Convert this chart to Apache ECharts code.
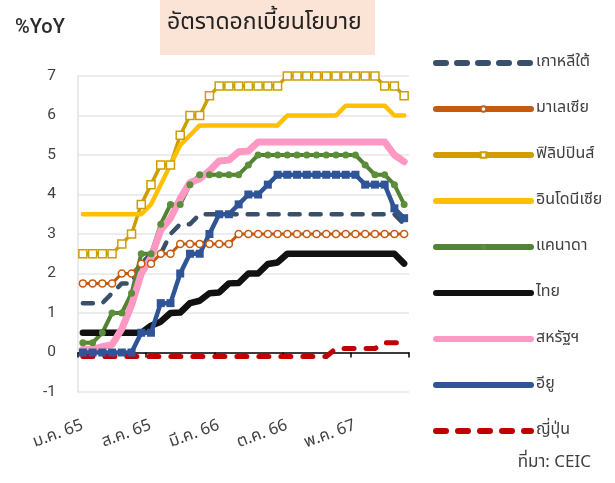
<!DOCTYPE html>
<html>
<head>
<meta charset="utf-8">
<script src="https://cdn.jsdelivr.net/npm/echarts/dist/echarts.min.js"></script>
<style>
  html, body { margin: 0; padding: 0; background: #fff; }
  #chart { width: 615px; height: 483px; }
</style>
</head>
<body>
<div id="chart"></div>
<script>
// เดือน ม.ค. 65 - ต.ค. 67
const months = [
  'ม.ค. 65', 'ก.พ. 65', 'มี.ค. 65', 'เม.ย. 65', 'พ.ค. 65', 'มิ.ย. 65',
  'ก.ค. 65', 'ส.ค. 65', 'ก.ย. 65', 'ต.ค. 65', 'พ.ย. 65', 'ธ.ค. 65',
  'ม.ค. 66', 'ก.พ. 66', 'มี.ค. 66', 'เม.ย. 66', 'พ.ค. 66', 'มิ.ย. 66',
  'ก.ค. 66', 'ส.ค. 66', 'ก.ย. 66', 'ต.ค. 66', 'พ.ย. 66', 'ธ.ค. 66',
  'ม.ค. 67', 'ก.พ. 67', 'มี.ค. 67', 'เม.ย. 67', 'พ.ค. 67', 'มิ.ย. 67',
  'ก.ค. 67', 'ส.ค. 67', 'ก.ย. 67', 'ต.ค. 67'
];

const korea = [1.25, 1.25, 1.25, 1.5, 1.75, 1.75, 2.25, 2.5, 2.5, 3.0, 3.25, 3.25,
  3.5, 3.5, 3.5, 3.5, 3.5, 3.5, 3.5, 3.5, 3.5, 3.5, 3.5, 3.5,
  3.5, 3.5, 3.5, 3.5, 3.5, 3.5, 3.5, 3.5, 3.5, 3.25];
const malaysia = [1.75, 1.75, 1.75, 1.75, 2.0, 2.0, 2.25, 2.25, 2.5, 2.5, 2.75, 2.75,
  2.75, 2.75, 2.75, 2.75, 3.0, 3.0, 3.0, 3.0, 3.0, 3.0, 3.0, 3.0,
  3.0, 3.0, 3.0, 3.0, 3.0, 3.0, 3.0, 3.0, 3.0, 3.0];
const philippines = [2.5, 2.5, 2.5, 2.5, 2.75, 3.0, 3.75, 4.25, 4.75, 4.75, 5.5, 6.0,
  6.0, 6.5, 6.75, 6.75, 6.75, 6.75, 6.75, 6.75, 6.75, 7.0, 7.0, 7.0,
  7.0, 7.0, 7.0, 7.0, 7.0, 7.0, 7.0, 6.75, 6.75, 6.5];
const indonesia = [3.5, 3.5, 3.5, 3.5, 3.5, 3.5, 3.5, 3.75, 4.25, 4.75, 5.25, 5.5,
  5.75, 5.75, 5.75, 5.75, 5.75, 5.75, 5.75, 5.75, 5.75, 6.0, 6.0, 6.0,
  6.0, 6.0, 6.0, 6.25, 6.25, 6.25, 6.25, 6.25, 6.0, 6.0];
const canada = [0.25, 0.25, 0.5, 1.0, 1.0, 1.5, 2.5, 2.5, 3.25, 3.75, 3.75, 4.25,
  4.5, 4.5, 4.5, 4.5, 4.5, 4.75, 5.0, 5.0, 5.0, 5.0, 5.0, 5.0,
  5.0, 5.0, 5.0, 5.0, 5.0, 4.75, 4.5, 4.5, 4.25, 3.75];
const thailand = [0.5, 0.5, 0.5, 0.5, 0.5, 0.5, 0.5, 0.68, 0.78, 1.0, 1.01, 1.25,
  1.31, 1.5, 1.52, 1.75, 1.76, 2.0, 2.0, 2.24, 2.28, 2.5, 2.5, 2.5,
  2.5, 2.5, 2.5, 2.5, 2.5, 2.5, 2.5, 2.5, 2.5, 2.25];
const us = [0.08, 0.08, 0.15, 0.2, 0.6, 1.2, 2.0, 2.4, 3.1, 3.4, 3.9, 4.3,
  4.4, 4.6, 4.85, 4.87, 5.08, 5.1, 5.33, 5.33, 5.33, 5.33, 5.33, 5.33,
  5.33, 5.33, 5.33, 5.33, 5.33, 5.33, 5.33, 5.33, 5.0, 4.83];
const eu = [0, 0, 0, 0, 0, 0, 0.5, 0.5, 1.25, 1.25, 2.0, 2.5,
  2.5, 3.0, 3.5, 3.5, 3.75, 4.0, 4.0, 4.25, 4.5, 4.5, 4.5, 4.5,
  4.5, 4.5, 4.5, 4.5, 4.5, 4.25, 4.25, 4.25, 3.65, 3.4];
const japan = [-0.1, -0.1, -0.1, -0.1, -0.1, -0.1, -0.1, -0.1, -0.1, -0.1, -0.1, -0.1,
  -0.1, -0.1, -0.1, -0.1, -0.1, -0.1, -0.1, -0.1, -0.1, -0.1, -0.1, -0.1,
  -0.1, -0.1, 0.1, 0.1, 0.1, 0.1, 0.1, 0.25, 0.25, 0.25];

const fontTH = "'Noto Sans Thai', Tahoma, 'Leelawadee UI', 'DejaVu Sans', sans-serif";
const chart = echarts.init(document.getElementById('chart'));

function makeLine(name, data, color, width, opts) {
  opts = opts || {};
  return {
    name: name,
    type: 'line',
    data: data,
    xAxisIndex: 0,
    symbol: opts.symbol || 'none',
    symbolSize: opts.symbolSize || 7,
    showSymbol: !!opts.symbol,
    showAllSymbol: true,
    lineStyle: { color: color, width: width, type: opts.dash || 'solid', cap: 'round', join: 'round' },
    itemStyle: opts.itemStyle || { color: color },
    emphasis: { disabled: true }
  };
}

// ไม่มีสัญลักษณ์ในคำอธิบาย
const noMark = { color: 'transparent', borderWidth: 0, opacity: 0 };

const option = {
  animation: false,
  backgroundColor: '#ffffff',
  title: {
    text: '%YoY',
    left: 10,
    top: 13,
    textStyle: { fontSize: 20, fontWeight: 500, color: '#2b2b2b', fontFamily: 'Roboto, sans-serif' }
  },
  graphic: [
    { type: 'rect', left: 160, top: 0, shape: { width: 215, height: 55 }, style: { fill: '#FBE4D5' } },
    {
      type: 'text', left: 167, top: 13,
      style: { text: 'อัตราดอกเบี้ยนโยบาย', fontSize: 23, fill: '#222', fontFamily: fontTH }
    },
    {
      type: 'text', right: 24, top: 455,
      style: { text: 'ที่มา: CEIC', fontSize: 17, fill: '#404040', fontFamily: fontTH }
    }
  ],
  legend: {
    orient: 'vertical',
    left: 428,
    top: 50,
    itemWidth: 95,
    itemHeight: 7,
    itemGap: 30,
    lineStyle: { width: 6 },
    textStyle: { fontSize: 16, color: '#404040', fontFamily: fontTH, lineHeight: 16 },
    data: [
      { name: 'เกาหลีใต้', itemStyle: noMark },
      { name: 'มาเลเซีย' },
      { name: 'ฟิลิปปินส์' },
      { name: 'อินโดนีเซีย', itemStyle: noMark },
      { name: 'แคนาดา' },
      { name: 'ไทย', itemStyle: noMark },
      { name: 'สหรัฐฯ', itemStyle: noMark },
      { name: 'อียู' },
      { name: 'ญี่ปุ่น', itemStyle: noMark }
    ]
  },
  grid: { left: 78, right: 206, top: 76, bottom: 91 },
  xAxis: [
    {
      type: 'category',
      data: months,
      boundaryGap: true,
      position: 'bottom',
      axisLine: { show: false, onZero: false },
      axisTick: { show: false },
      axisLabel: { interval: 6, rotate: 20, margin: 34, fontSize: 16.5, color: '#404040', fontFamily: fontTH }
    },
    {
      type: 'category',
      data: months,
      boundaryGap: true,
      position: 'bottom',
      axisLine: { show: true, onZero: true, lineStyle: { color: '#000', width: 1.5 } },
      axisTick: { show: true, interval: 6, length: 5, lineStyle: { color: '#000', width: 1.5 } },
      axisLabel: { show: false }
    }
  ],
  yAxis: {
    type: 'value',
    min: -1,
    max: 7,
    interval: 1,
    axisLine: { show: true, lineStyle: { color: '#E3E3E3', width: 1.5 } },
    axisTick: { show: false },
    axisLabel: { fontSize: 15.5, color: '#404040', margin: 22, fontFamily: 'Roboto, sans-serif' },
    splitLine: { lineStyle: { color: '#E6E6E6', width: 1.5 } }
  },
  series: [
    makeLine('เกาหลีใต้', korea, '#3A4F69', 4.5, { dash: [10, 11] }),
    makeLine('มาเลเซีย', malaysia, '#C55A11', 3, {
      symbol: 'circle', symbolSize: 7,
      itemStyle: { color: '#fff', borderColor: '#C55A11', borderWidth: 1.5 }
    }),
    makeLine('ฟิลิปปินส์', philippines, '#CC9E00', 3.5, {
      symbol: 'rect', symbolSize: 8,
      itemStyle: { color: '#fff', borderColor: '#CC9E00', borderWidth: 1.5 }
    }),
    makeLine('อินโดนีเซีย', indonesia, '#FFC000', 4.5),
    makeLine('แคนาดา', canada, '#548235', 4, {
      symbol: 'circle', symbolSize: 7, itemStyle: { color: '#5B8F3A' }
    }),
    makeLine('ไทย', thailand, '#111111', 6.5),
    makeLine('สหรัฐฯ', us, '#FF99C4', 7),
    makeLine('อียู', eu, '#2F5597', 4.5, {
      symbol: 'rect', symbolSize: 8, itemStyle: { color: '#2F5597' }
    }),
    makeLine('ญี่ปุ่น', japan, '#C00000', 5, { dash: [10, 12] })
  ]
};

chart.setOption(option);
</script>
</body>
</html>
